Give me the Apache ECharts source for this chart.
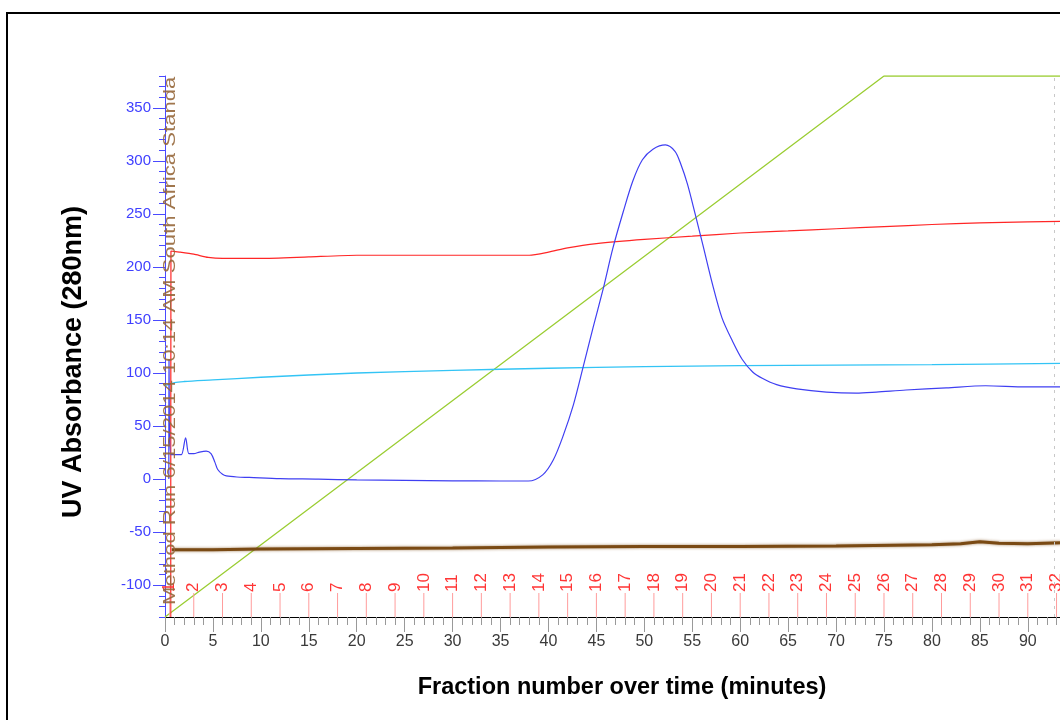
<!DOCTYPE html>
<html>
<head>
<meta charset="utf-8">
<script src="https://cdn.jsdelivr.net/npm/echarts@6/dist/echarts.min.js"></script>
<style>
  html, body { margin: 0; padding: 0; background: #fff; overflow: hidden; width: 1060px; height: 720px; }
  /* the plot runs on past the right edge of the page */
  #chart { width: 1140px; height: 720px; }
</style>
</head>
<body>
<div id="chart"></div>
<script>
// UV absorbance at 280 nm (mAU) against run time (minutes)
const uvTime  = [0.4, 0.42, 0.6, 1.2, 1.7, 2.15, 2.5, 3.0, 3.6, 4.3, 4.8, 5.2, 5.5, 6.0, 6.4, 7.5, 8.8, 12, 16, 20, 25, 30, 35, 37.9,
                 39.4, 40.5, 41.5, 42.6, 43.6, 44.6, 45.7, 46.7, 47.8, 48.8, 49.8, 50.9, 52.2, 53.2, 53.8, 54.5, 55.3, 56.1, 57.1,
                 58.1, 59.2, 60.2, 61.3, 62.3, 63.8, 65.9, 69.0, 72.1, 74.2, 77.3, 81.5, 85.6, 89.8, 93.5];
const uvValue = [0, 113, 23, 23, 23, 39, 24, 24, 25.5, 26.4, 24, 16, 9, 4.5, 3, 2, 1.6, 0.5, 0, -0.8, -1.2, -1.6, -1.8, -1.8,
                 4, 18, 40, 70, 105, 141, 179, 217, 252, 281, 301, 311, 315, 309, 297, 278, 250, 221, 184,
                 152, 130, 113, 101, 95, 89, 85, 82, 81, 82, 84, 86, 88, 87, 87];

// Conductivity trace
const condTime  = [0.6, 0.62, 1.5, 3, 4.5, 6, 10, 15, 20, 30, 38, 40, 42, 45, 50, 55, 60, 65, 70, 75, 80, 85, 90, 93.5];
const condValue = [-130, 215, 214, 212, 209, 208, 208, 209.5, 211, 211, 211, 214, 218, 222, 226, 229, 232, 234, 236, 238, 240, 241.5, 242.5, 243];

// pH trace
const phTime  = [0, 1, 2, 5, 10, 20, 30, 40, 50, 60, 70, 80, 93.5];
const phValue = [88, 91, 92, 93.5, 96, 100, 102.5, 104.5, 106, 107, 107.5, 108, 109];

// Gradient (concentration B)
const gradTime  = [0, 75, 100];
const gradValue = [-130, 380, 380];

// Temperature trace
const tempTime  = [0.7, 5, 10, 20, 30, 40, 50, 60, 70, 80, 83, 85, 87, 90, 93.5];
const tempValue = [-66.5, -66.5, -66, -65.5, -65, -64, -63.5, -63.5, -63, -62, -61, -59, -60.5, -61, -60];

// Fraction collector marks
const fractionTime  = [0.5, 3, 6, 9, 12, 15, 18, 21, 24, 27, 30, 33, 36, 39, 42, 45, 48, 51, 54, 57, 60, 63, 66, 69, 72, 75, 78, 81, 84, 87, 90, 93];
const fractionLabel = ['1','2','3','4','5','6','7','8','9','10','11','12','13','14','15','16','17','18','19','20','21','22','23','24','25','26','27','28','29','30','31','32'];

// Run event
const eventTime  = [0.6];
const eventLabel = ['Method Run 6/15/2014 10:14 AM South Africa Standa'];

// Axis ticks
const yMajorTicks = [-100, -50, 0, 50, 100, 150, 200, 250, 300, 350];
const Y_MIN = -130, Y_MAX = 380, X_MIN = 0, X_MAX = 100;

const zip = (xs, ys) => xs.map((x, i) => [x, ys[i]]);
const FONT = '"Liberation Sans", Arial, sans-serif';

const chart = echarts.init(document.getElementById('chart'), null, { renderer: 'canvas' });

const option = {
  animation: false,
  grid: { left: 165, top: 76, width: 963.3, bottom: 103, containLabel: false },
  xAxis: [
    { // minor ticks every minute
      type: 'value', min: X_MIN, max: X_MAX, interval: 1, position: 'bottom',
      axisLine: { show: true, onZero: false, lineStyle: { color: '#000', width: 1 } },
      axisTick: { show: true, length: 8, lineStyle: { color: '#999', width: 1 } },
      axisLabel: { show: false }, splitLine: { show: false }
    },
    { // labelled ticks every 5 minutes
      type: 'value', min: X_MIN, max: X_MAX, interval: 5, position: 'bottom',
      axisLine: { show: false, onZero: false },
      axisTick: { show: true, length: 15, lineStyle: { color: '#999', width: 1 } },
      axisLabel: { show: true, margin: 17, color: '#3a3a3a', fontSize: 16, fontFamily: FONT },
      splitLine: { show: false }
    }
  ],
  yAxis: [
    { // minor ticks every 10 units
      type: 'value', min: Y_MIN, max: Y_MAX, interval: 10, position: 'left',
      axisLine: { show: true, onZero: false, lineStyle: { color: '#4a4aff', width: 1 } },
      axisTick: { show: true, length: 6, lineStyle: { color: '#4a4aff', width: 1 } },
      axisLabel: { show: false }, splitLine: { show: false }
    },
    { // labelled ticks every 50 units
      type: 'value', min: Y_MIN, max: Y_MAX, position: 'left',
      axisLine: { show: false, onZero: false },
      axisTick: { show: true, length: 12, customValues: yMajorTicks, lineStyle: { color: '#4a4aff', width: 1 } },
      axisLabel: { show: true, customValues: yMajorTicks, margin: 14, color: '#4040ff', fontSize: 15, fontFamily: FONT },
      splitLine: { show: false }
    }
  ],
  series: [
    {
      name: 'Gradient', type: 'line', data: zip(gradTime, gradValue),
      showSymbol: false, lineStyle: { color: '#9acd32', width: 1.3 }, z: 2,
      markLine: {
        silent: true, symbol: 'none', label: { show: false },
        lineStyle: { color: '#c8c8c8', type: [3, 5], width: 1 },
        data: [{ xAxis: 92.8 }]
      }
    },
    {
      name: 'Temperature', type: 'line', data: zip(tempTime, tempValue),
      showSymbol: false, z: 3,
      lineStyle: { color: '#7a4a14', width: 3, shadowBlur: 3, shadowColor: 'rgba(122,74,20,0.7)' }
    },
    {
      name: 'pH', type: 'line', data: zip(phTime, phValue), smooth: 0.3,
      showSymbol: false, lineStyle: { color: '#33c4f5', width: 1.3 }, z: 3
    },
    {
      name: 'Conductivity', type: 'line', data: zip(condTime, condValue), smooth: 0.2,
      showSymbol: false, lineStyle: { color: '#ff2626', width: 1.2 }, z: 4
    },
    {
      name: 'UV 280nm', type: 'line', data: zip(uvTime, uvValue), smooth: 0.3,
      showSymbol: false, lineStyle: { color: '#3f3ff2', width: 1.2 }, z: 5
    },
    {
      name: 'Fractions', type: 'custom', data: fractionTime.map(t => [t]), z: 6,
      renderItem: function (params, api) {
        const base = api.coord([api.value(0), Y_MIN]);
        const top = base[1] - 24;
        return {
          type: 'group',
          children: [
            { type: 'line', shape: { x1: base[0], y1: base[1], x2: base[0], y2: top },
              style: { stroke: '#ff9c9c', lineWidth: 1 } },
            { type: 'text', x: base[0], y: top - 1, rotation: Math.PI / 2,
              style: { text: fractionLabel[params.dataIndex], fill: '#ff3535',
                       font: '17px ' + FONT, align: 'left', verticalAlign: 'middle' } }
          ]
        };
      }
    },
    {
      name: 'Events', type: 'custom', data: eventTime.map(t => [t]), z: 7,
      renderItem: function (params, api) {
        const base = api.coord([api.value(0), Y_MIN]);
        return {
          type: 'text', x: base[0], y: base[1] - 12, rotation: Math.PI / 2, scaleX: 1.3,
          style: { text: eventLabel[params.dataIndex], fill: '#96673a', opacity: 0.9,
                   font: '17px ' + FONT, align: 'left', verticalAlign: 'middle' }
        };
      }
    }
  ],
  graphic: [
    { type: 'rect', shape: { x: 7, y: 13, width: 1300, height: 900 },
      style: { fill: 'none', stroke: '#000', lineWidth: 2 }, z: 100 },
    { type: 'text', x: 622, y: 688,
      style: { text: 'Fraction number over time (minutes)', fill: '#000',
               font: 'bold 23.5px ' + FONT, align: 'center', verticalAlign: 'middle' } },
    { type: 'text', x: 74, y: 362, rotation: Math.PI / 2,
      style: { text: 'UV Absorbance (280nm)', fill: '#000',
               font: 'bold 27px ' + FONT, align: 'center', verticalAlign: 'middle' } }
  ]
};

chart.setOption(option);
</script>
</body>
</html>
